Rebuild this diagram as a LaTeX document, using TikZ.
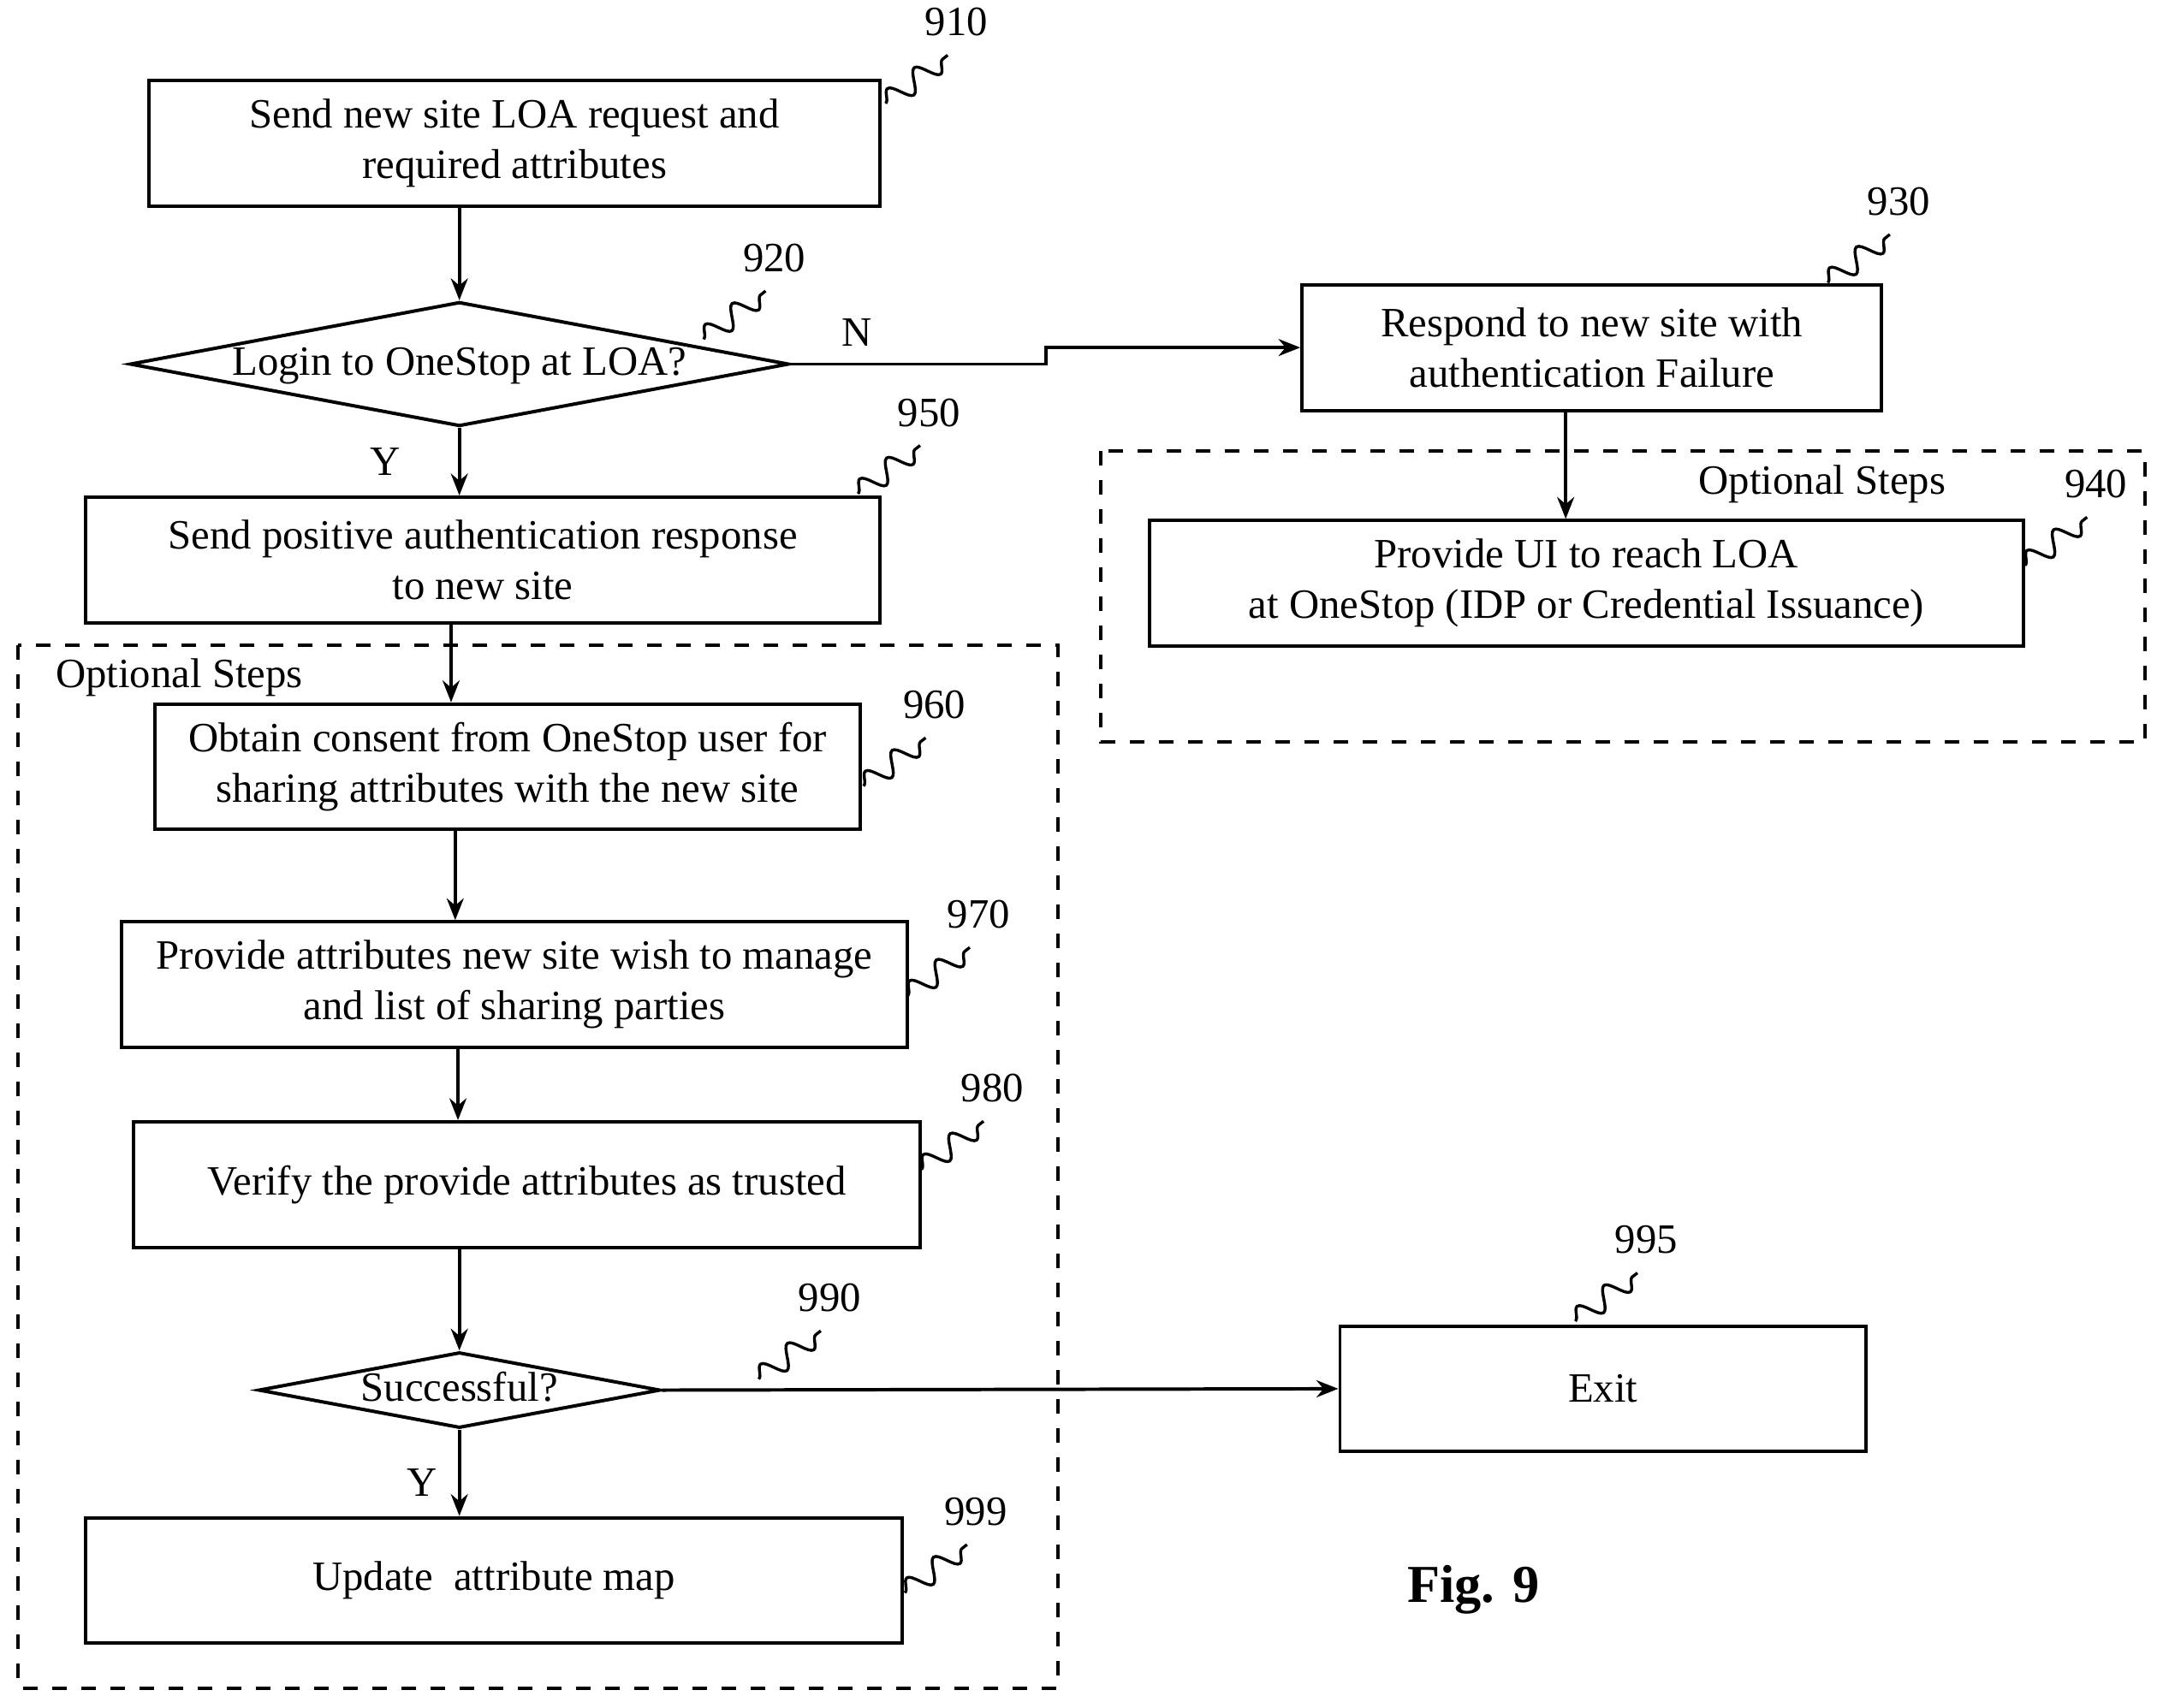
\documentclass[tikz,border=0pt]{standalone}
\usepackage{fontspec}
\setmainfont{Liberation Serif}
\usetikzlibrary{shapes.geometric,arrows.meta,decorations.pathmorphing}

\tikzset{
  box/.style={draw,line width=0.7pt,minimum height=0.91cm,align=center,inner sep=0pt},
  dec/.style={draw,diamond,line width=0.7pt,aspect=5.3,inner sep=0pt,text height=0.22cm,text depth=0.06cm},
  flow/.style={line width=0.7pt,-{Stealth[length=4.5pt,width=3.5pt]}},
  optbox/.style={draw,dashed,line width=0.7pt},
  squig/.style={line width=0.6pt,decorate,decoration={snake,amplitude=2.2pt,segment length=7pt}}
}
% reference numeral with wavy lead line
\newcommand{\refnum}[5]{%
  \coordinate (#5) at (#1,#2);
  \draw[squig] (#5) -- ++(45,-35);
  \node[anchor=south west,inner sep=0pt] at ($(#5)+(28,-48)$) {#3#4};
}
\usetikzlibrary{calc}

\begin{document}
\fontsize{8.6pt}{10.4pt}\selectfont
\begin{tikzpicture}[x=0.01cm,y=-0.01cm]
  \useasboundingbox (0,0) rectangle (1568,1238);

  % optional step frames
  \draw[optbox] (798,327) rectangle (1555,538);
  \node (optr) at (1321,351) {Optional Steps};
  \draw[optbox] (13,468) rectangle (767,1224);
  \node (optl) at (130,491) {Optional Steps};

  % steps
  \node[box,minimum width=5.30cm] (s910) at (373,104) {Send new site LOA request and\\required attributes};
  \node[dec] (s920) at (333,264) {Login to OneStop at LOA?};
  \node[box,minimum width=4.20cm] (s930) at (1154,252) {Respond to new site with\\authentication Failure};
  \node[box,minimum width=6.33cm] (s940) at (1150,423) {Provide UI to reach LOA\\at OneStop (IDP or Credential Issuance)};
  \node[box,minimum width=5.76cm] (s950) at (350,406) {Send positive authentication response\\to new site};
  \node[box,minimum width=5.11cm] (s960) at (368,556) {Obtain consent from OneStop user for\\sharing attributes with the new site};
  \node[box,minimum width=5.69cm] (s970) at (373,714) {Provide attributes new site wish to manage\\and list of sharing parties};
  \node[box,minimum width=5.70cm] (s980) at (382,859) {Verify the provide attributes as trusted};
  \node[dec] (s990) at (333,1008) {Successful?};
  \node[box,minimum width=3.81cm] (s995) at (1162,1007) {Exit};
  \node[box,minimum width=5.92cm] (s999) at (358,1146) {Update\ \ attribute map};

  % connectors
  \draw[flow] (s910.south -| s920) -- (s920.north);
  \draw[flow] (s920.east) -- (758,264) -- (758,252) -- (s930.west);
  \node at (621,241) {N};
  \draw[flow] (s920.south) -- (s950.north -| s920);
  \node at (279,335) {Y};
  \draw[flow] (s930.south -| 1135,0) -- (s940.north -| 1135,0);
  \draw[flow] (s950.south -| 327,0) -- (s960.north -| 327,0);
  \draw[flow] (s960.south -| 330,0) -- (s970.north -| 330,0);
  \draw[flow] (s970.south -| 332,0) -- (s980.north -| 332,0);
  \draw[flow] (s980.south -| s990) -- (s990.north);
  \draw[flow] (s990.east) -- (s995.west);
  \draw[flow] (s990.south) -- (s999.north -| s990);
  \node at (306,1075) {Y};

  % reference numerals
  \refnum{642}{75}{91}{0}{r910}
  \refnum{510}{246}{92}{0}{r920}
  \refnum{1325}{205}{93}{0}{r930}
  \refnum{1468}{410}{94}{0}{r940}
  \refnum{622}{358}{95}{0}{r950}
  \refnum{626}{570}{96}{0}{r960}
  \refnum{658}{722}{97}{0}{r970}
  \refnum{668}{848}{98}{0}{r980}
  \refnum{550}{1000}{99}{0}{r990}
  \refnum{1142}{958}{99}{5}{r995}
  \refnum{656}{1155}{99}{9}{r999}

  \node[font=\bfseries\fontsize{11pt}{13pt}\selectfont] (fig) at (1068,1153) {Fig. 9};
\end{tikzpicture}
\end{document}
